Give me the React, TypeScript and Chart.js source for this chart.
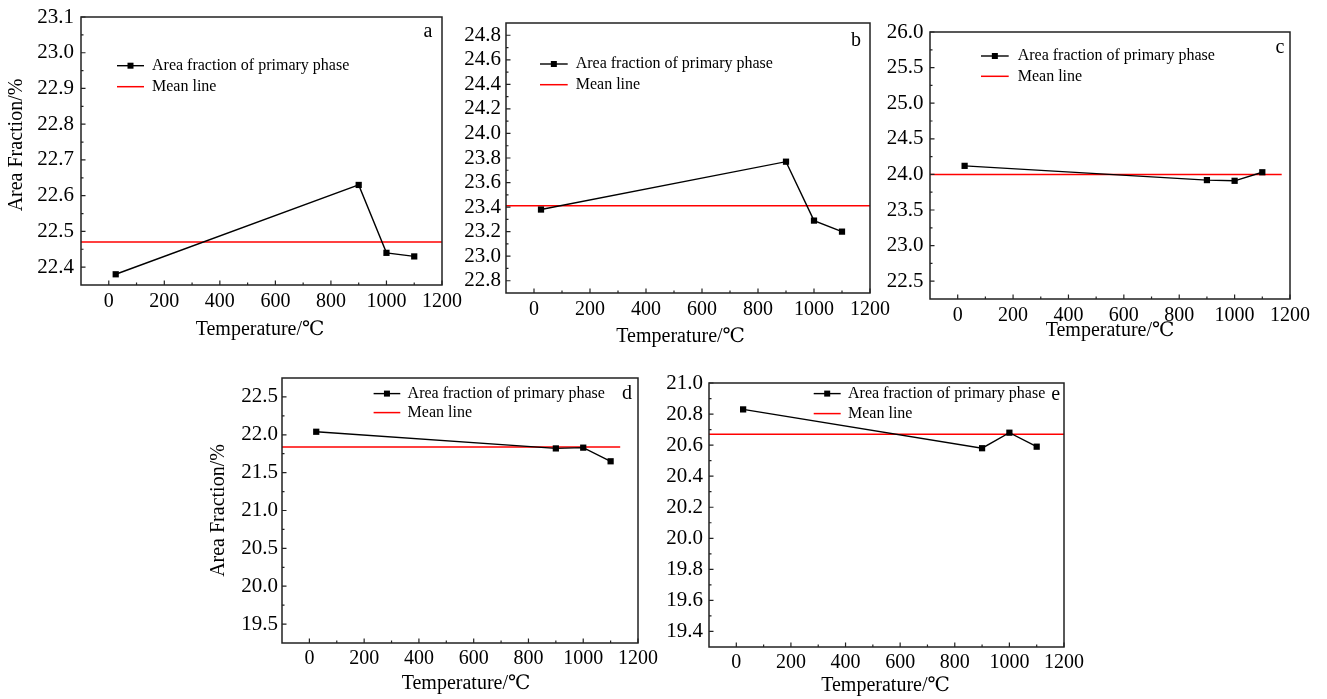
import React, { useEffect, useRef } from 'react';
import { Chart, registerables } from 'chart.js';

Chart.register(...registerables);

// ---------------- data ----------------
const temperatures = [25, 900, 1000, 1100];
const fractionA = [22.38, 22.63, 22.44, 22.43];
const fractionB = [23.38, 23.77, 23.29, 23.2];
const fractionC = [24.12, 23.92, 23.91, 24.03];
const fractionD = [22.04, 21.82, 21.83, 21.65];
const fractionE = [20.83, 20.58, 20.68, 20.59];
const meanValues = [22.47, 23.41, 24.0, 21.84, 20.67];
const meanLineStart = [-100, -100, -100, -100, -100];
const meanLineEnd = [1200, 1200, 1170, 1135, 1200];

const panelLetters = ['a', 'b', 'c', 'd', 'e'];
const xTicks = [0, 200, 400, 600, 800, 1000, 1200];
const xRange = [-100, 1200];
const yTicksA = [22.4, 22.5, 22.6, 22.7, 22.8, 22.9, 23.0, 23.1];
const yTicksB = [22.8, 23.0, 23.2, 23.4, 23.6, 23.8, 24.0, 24.2, 24.4, 24.6, 24.8];
const yTicksC = [22.5, 23.0, 23.5, 24.0, 24.5, 25.0, 25.5, 26.0];
const yTicksD = [19.5, 20.0, 20.5, 21.0, 21.5, 22.0, 22.5];
const yTicksE = [19.4, 19.6, 19.8, 20.0, 20.2, 20.4, 20.6, 20.8, 21.0];
const yRangeA = [22.35, 23.1];
const yRangeB = [22.7, 24.9];
const yRangeC = [22.25, 26.0];
const yRangeD = [19.25, 22.75];
const yRangeE = [19.3, 21.0];

const seriesLabel = 'Area fraction of primary phase';
const meanLabel = 'Mean line';
const xTitleText = 'Temperature/℃';
const yTitleText = 'Area Fraction/%';

const fractions = [fractionA, fractionB, fractionC, fractionD, fractionE];
const yTickSets = [yTicksA, yTicksB, yTicksC, yTicksD, yTicksE];
const yRanges = [yRangeA, yRangeB, yRangeC, yRangeD, yRangeE];

// ---------------- layout ----------------
const FONT = "'Liberation Serif', 'DejaVu Serif', 'Noto Sans CJK SC', serif";
const PAD_TOP = 20;
const PAD_RIGHT = 30;

type Layout = {
  L: number; R: number; T: number; B: number; wy: number; hx: number;
  yPad: number; xPad: number; yTitle: number[] | null; xTitle: number[];
  legLine: number[]; legText: number; legRows: number[]; letter: number[];
};

const layouts: Layout[] = [
  { L: 81, R: 442, T: 17, B: 285, wy: 81, hx: 62, yPad: 7, xPad: 5, yTitle: [-64, 128], xTitle: [179, 45], legLine: [36, 63], legText: 71, legRows: [48.7, 69.7], letter: [-14, 15] },
  { L: 506, R: 870, T: 23, B: 293, wy: 52, hx: 62, yPad: 5, xPad: 5, yTitle: null, xTitle: [174.6, 43.4], legLine: [34, 61.7], legText: 69.7, legRows: [41, 61.7], letter: [-14, 17.4] },
  { L: 930, R: 1290, T: 32, B: 299, wy: 52, hx: 62, yPad: 6.5, xPad: 5, yTitle: null, xTitle: [180, 31.7], legLine: [51, 78.7], legText: 87.7, legRows: [24, 44.3], letter: [-10, 15.6] },
  { L: 282, R: 638, T: 378, B: 643, wy: 82, hx: 55, yPad: 4, xPad: 3.5, yTitle: [-63, 132.5], xTitle: [184, 40.3], legLine: [91.6, 118.3], legText: 125.6, legRows: [15.6, 34.6], letter: [-11, 15.6] },
  { L: 709, R: 1064, T: 383, B: 647, wy: 52, hx: 52, yPad: 6, xPad: 3.5, yTitle: null, xTitle: [176.5, 38.3], legLine: [104.7, 131.7], legText: 139, legRows: [10.6, 30.6], letter: [-8.3, 11.6] },
];

function minorsOf(ticks: number[], lo: number, hi: number): number[] {
  const out: number[] = [];
  const step = ticks[1] - ticks[0];
  const eps = step * 0.01;
  const first = ticks[0] - step / 2;
  if (first > lo + eps) out.push(first);
  for (let i = 0; i < ticks.length - 1; i++) out.push((ticks[i] + ticks[i + 1]) / 2);
  const last = ticks[ticks.length - 1] + step / 2;
  if (last < hi - eps) out.push(last);
  return out;
}

function Panel({ idx }: { idx: number }) {
  const ref = useRef<HTMLCanvasElement | null>(null);
  const lay = layouts[idx];
  const width = lay.wy + (lay.R - lay.L) + PAD_RIGHT;
  const height = PAD_TOP + (lay.B - lay.T) + lay.hx;

  useEffect(() => {
    const canvas = ref.current;
    if (!canvas) return;
    const yTicks = yTickSets[idx];
    const yRange = yRanges[idx];

    const decor = {
      id: 'decor' + idx,
      afterDraw(chart: any) {
        const ctx = chart.ctx;
        const ca = chart.chartArea;
        const xs = chart.scales.x;
        const ys = chart.scales.y;
        ctx.save();
        // inward ticks
        ctx.strokeStyle = '#222';
        ctx.lineWidth = 1.2;
        ctx.beginPath();
        for (const v of xTicks) {
          const px = xs.getPixelForValue(v);
          ctx.moveTo(px, ca.bottom); ctx.lineTo(px, ca.bottom - 4.5);
        }
        for (const v of minorsOf(xTicks, xRange[0], xRange[1])) {
          const px = xs.getPixelForValue(v);
          ctx.moveTo(px, ca.bottom); ctx.lineTo(px, ca.bottom - 2.5);
        }
        for (const v of yTicks) {
          const py = ys.getPixelForValue(v);
          ctx.moveTo(ca.left, py); ctx.lineTo(ca.left + 4.5, py);
        }
        for (const v of minorsOf(yTicks, yRange[0], yRange[1])) {
          const py = ys.getPixelForValue(v);
          ctx.moveTo(ca.left, py); ctx.lineTo(ca.left + 2.5, py);
        }
        ctx.stroke();
        // frame
        ctx.lineWidth = 1.5;
        ctx.strokeRect(ca.left, ca.top, ca.right - ca.left, ca.bottom - ca.top);

        // legend
        ctx.fillStyle = '#000';
        ctx.font = '16px ' + FONT;
        ctx.textBaseline = 'middle';
        ctx.textAlign = 'left';
        const lx0 = ca.left + lay.legLine[0];
        const lx1 = ca.left + lay.legLine[1];
        const r0 = ca.top + lay.legRows[0];
        const r1 = ca.top + lay.legRows[1];
        ctx.strokeStyle = '#000';
        ctx.lineWidth = 1.4;
        ctx.beginPath(); ctx.moveTo(lx0, r0); ctx.lineTo(lx1, r0); ctx.stroke();
        ctx.fillRect((lx0 + lx1) / 2 - 3, r0 - 3, 6, 6);
        ctx.strokeStyle = '#ff0000';
        ctx.lineWidth = 1.5;
        ctx.beginPath(); ctx.moveTo(lx0, r1); ctx.lineTo(lx1, r1); ctx.stroke();
        ctx.fillText(seriesLabel, ca.left + lay.legText, r0);
        ctx.fillText(meanLabel, ca.left + lay.legText, r1);

        // panel letter
        ctx.font = '20px ' + FONT;
        ctx.textAlign = 'center';
        ctx.fillText(panelLetters[idx], ca.right + lay.letter[0], ca.top + lay.letter[1]);

        // axis titles
        ctx.font = '20px ' + FONT;
        ctx.fillText(xTitleText, ca.left + lay.xTitle[0], ca.bottom + lay.xTitle[1]);
        if (lay.yTitle) {
          ctx.translate(ca.left + lay.yTitle[0], ca.top + lay.yTitle[1]);
          ctx.rotate(-Math.PI / 2);
          ctx.fillText(yTitleText, 0, 0);
        }
        ctx.restore();
      },
    };

    const chart = new Chart(canvas, {
      type: 'line',
      data: {
        datasets: [
          {
            label: meanLabel,
            data: [
              { x: meanLineStart[idx], y: meanValues[idx] },
              { x: meanLineEnd[idx], y: meanValues[idx] },
            ],
            borderColor: '#ff0000',
            borderWidth: 1.5,
            pointRadius: 0,
            order: 2,
          },
          {
            label: seriesLabel,
            data: temperatures.map((t, k) => ({ x: t, y: fractions[idx][k] })),
            borderColor: '#000',
            backgroundColor: '#000',
            borderWidth: 1.4,
            pointStyle: 'rect',
            pointRadius: 4.4,
            pointBackgroundColor: '#000',
            pointBorderWidth: 0,
            order: 1,
          },
        ],
      },
      options: {
        animation: false,
        responsive: false,
        devicePixelRatio: 1,
        events: [],
        layout: { padding: { top: PAD_TOP, right: PAD_RIGHT, left: 0, bottom: 0 } },
        plugins: { legend: { display: false }, tooltip: { enabled: false } },
        scales: {
          x: {
            type: 'linear',
            position: 'bottom',
            min: xRange[0],
            max: xRange[1],
            grid: { display: false, drawTicks: false, tickLength: 0 },
            border: { display: false },
            ticks: {
              font: { family: FONT, size: 20 },
              color: '#000',
              padding: lay.xPad,
              maxRotation: 0,
              autoSkip: false,
              callback: (v: any) => String(v),
            },
            afterBuildTicks: (s: any) => { s.ticks = xTicks.map((v) => ({ value: v })); },
            afterFit: (s: any) => { s.height = lay.hx; },
          },
          y: {
            type: 'linear',
            position: 'left',
            min: yRange[0],
            max: yRange[1],
            grid: { display: false, drawTicks: false, tickLength: 0 },
            border: { display: false },
            ticks: {
              font: { family: FONT, size: 21 },
              color: '#000',
              padding: lay.yPad,
              autoSkip: false,
              callback: (v: any) => Number(v).toFixed(1),
            },
            afterBuildTicks: (s: any) => { s.ticks = yTicks.map((v) => ({ value: v })); },
            afterFit: (s: any) => { s.width = lay.wy; },
          },
        },
      },
      plugins: [decor],
    } as any);
    return () => chart.destroy();
  }, [idx]);

  return (
    <canvas
      ref={ref}
      width={width}
      height={height}
      style={{
        position: 'absolute',
        left: lay.L - lay.wy,
        top: lay.T - PAD_TOP,
        width,
        height,
      }}
    />
  );
}

export default function App() {
  return (
    <div
      style={{
        position: 'absolute',
        left: 0,
        top: 0,
        width: 1327,
        height: 699,
        overflow: 'hidden',
        background: '#fff',
      }}
    >
      {[0, 1, 2, 3, 4].map((i) => (
        <Panel key={i} idx={i} />
      ))}
    </div>
  );
}
